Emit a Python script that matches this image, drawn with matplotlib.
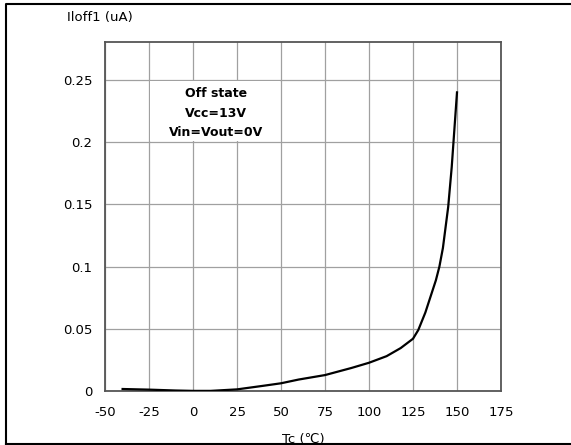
"""
Off-state leakage current Iloff1 versus case temperature Tc.
"""

import matplotlib

matplotlib.use("Agg")
import matplotlib.pyplot as plt
from matplotlib.patches import Rectangle

# curve
tc = [-40, -25, -10, 0, 10, 25, 40, 50, 60, 75, 90, 100, 110, 118,
      125, 128, 132, 135, 138, 140, 142, 145, 147, 149, 150]
iloff = [0.0016, 0.0011, 0.0004, 0.0001, 0.0001, 0.0013, 0.0042, 0.0062,
         0.0092, 0.0128, 0.0185, 0.0227, 0.028, 0.0345, 0.042, 0.049,
         0.063, 0.076, 0.089, 0.100, 0.115, 0.148, 0.180, 0.220, 0.240]

x_ticks = [-50, -25, 0, 25, 50, 75, 100, 125, 150, 175]
y_ticks = [0, 0.05, 0.1, 0.15, 0.2, 0.25]
y_tick_labels = ["0", "0.05", "0.1", "0.15", "0.2", "0.25"]

note = "Off state\nVcc=13V\nVin=Vout=0V"

plt.rcParams["font.family"] = ["DejaVu Sans"]
plt.rcParams["axes.unicode_minus"] = False

fig = plt.figure(figsize=(5.71, 4.45), dpi=100)
ax = fig.add_axes([105 / 571, 54 / 445, 396 / 571, 349 / 445])

ax.plot(tc, iloff, color="black", linewidth=1.6, zorder=3)

ax.set_xlim(-50, 175)
ax.set_ylim(0, 0.2805)
ax.set_xticks(x_ticks)
ax.set_yticks(y_ticks)
ax.set_yticklabels(y_tick_labels)
ax.tick_params(length=0, labelsize=9.5)
ax.tick_params(axis="x", pad=11)
ax.tick_params(axis="y", pad=9)
ax.set_axisbelow(True)
ax.grid(True, color="#a0a0a0", linewidth=0.9)
for s in ax.spines.values():
    s.set_color("#555555")
    s.set_linewidth(1.3)

# white box behind the conditions text hides the grid
ax.add_patch(Rectangle((-24.6, 0.2006), 74.2, 0.0488, facecolor="white",
                       edgecolor="none", zorder=1))
ax.text(13, 0.2442, note, ha="center", va="top", fontsize=9,
        fontweight="bold", linespacing=1.65, zorder=2)

fig.text(67 / 571, 1 - 18 / 445, "Iloff1 (uA)", ha="left", va="center",
         fontsize=9.5)
fig.text(303 / 571, 1 - 439 / 445, "Tc (℃)", ha="center", va="center",
         fontsize=9.5)

# outer frame (open on the right, as in the source image)
fig.add_artist(plt.Line2D([6 / 571, 6 / 571, 1.0], [1 - 444 / 445, 1 - 4 / 445, 1 - 4 / 445],
                          transform=fig.transFigure, color="black", linewidth=1.5))
fig.add_artist(plt.Line2D([6 / 571, 1.0], [1 - 444 / 445, 1 - 444 / 445],
                          transform=fig.transFigure, color="black", linewidth=1.5))

fig.savefig("out.png", dpi=100)
